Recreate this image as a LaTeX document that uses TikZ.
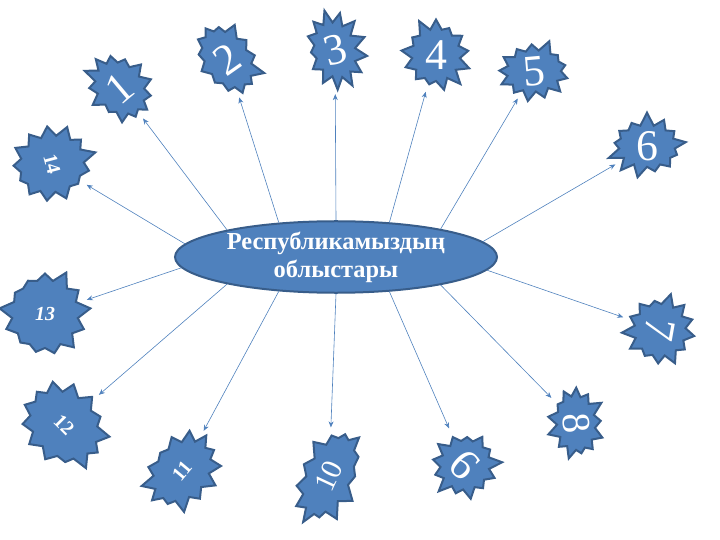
\documentclass[tikz,border=0pt]{standalone}
\usepackage{fontspec}
\setmainfont{Liberation Serif}
\usetikzlibrary{shapes.symbols,shapes.geometric,arrows.meta}
\definecolor{burstblue}{HTML}{4F81BD}
\definecolor{burstedge}{HTML}{385D8A}
\newcommand{\bigdigit}[1]{\fontsize{44}{44}\selectfont #1}
\newcommand{\smalldigit}[1]{\fontsize{20}{20}\selectfont\bfseries #1}

\begin{document}
\begin{tikzpicture}[x=1bp,y=1bp,
    burst/.style={starburst, starburst points=13, starburst point height=13bp,
      fill=burstblue, draw=burstedge, line width=2bp, text=white,
      inner sep=0pt, minimum width=66bp, minimum height=78bp},
    hub/.style={ellipse, fill=burstblue, draw=burstedge, line width=2bp,
      text=white, minimum width=322bp, minimum height=70bp, inner sep=0pt,
      align=center, font=\fontsize{24.5}{28}\selectfont\bfseries},
    arr/.style={-{Stealth[length=6bp,width=5bp]}, draw=burstblue,
      line width=0.6bp, shorten >=8bp}]
  \useasboundingbox (0,0) rectangle (720,-540);
  \node[hub] (c) at (336,-257) {Республикамыздың\\облыстары};
  % the fourteen regions
  \node[burst, rotate=40, random starburst=11, minimum width=70bp, minimum height=82bp] (s1) at (120,-88) {\bigdigit{1}};
  \node[burst, rotate=35, random starburst=22, minimum width=68bp, minimum height=88bp] (s2) at (227,-59) {\bigdigit{2}};
  \node[burst, rotate=15, random starburst=33, minimum width=66bp, minimum height=82bp] (s3) at (335,-50) {\bigdigit{3}};
  \node[burst, random starburst=44, minimum width=74bp, minimum height=78bp] (s4) at (436,-55) {\bigdigit{4}};
  \node[burst, rotate=5, random starburst=55, minimum width=80bp, minimum height=64bp] (s5) at (534,-71) {\bigdigit{5}};
  \node[burst, random starburst=66, minimum width=82bp, minimum height=64bp] (s6) at (647,-146) {\bigdigit{6}};
  \node[burst, rotate=-100, random starburst=77, minimum width=78bp, minimum height=77bp] (s7) at (660,-330) {\bigdigit{7}};
  \node[burst, rotate=-85, random starburst=88, minimum width=80bp, minimum height=60bp] (s8) at (576,-423) {\fontsize{40}{40}\selectfont 8};
  \node[burst, rotate=135, random starburst=99, minimum width=74bp, minimum height=76bp] (s9) at (465,-465) {\bigdigit{9}};
  \node[burst, rotate=65, random starburst=12, minimum width=108bp, minimum height=68bp] (s10) at (329,-476) {\fontsize{30}{30}\selectfont 10};
  \node[burst, rotate=50, random starburst=23, minimum width=92bp, minimum height=76bp] (s11) at (182,-471) {\smalldigit{11}};
  \node[burst, rotate=-45, random starburst=34, minimum width=100bp, minimum height=86bp] (s12) at (64,-425) {\smalldigit{12}};
  \node[burst, random starburst=45, minimum width=92bp, minimum height=94bp] (s13) at (45,-314) {\smalldigit{\itshape 13}};
  \node[burst, rotate=-75, random starburst=56, minimum width=82bp, minimum height=90bp] (s14) at (52,-164) {\smalldigit{14}};
  % arrows from the centre
  \draw[arr] (c.166) -- (s1);
  \draw[arr] (c.149) -- (s2);
  \draw[arr] (c.90) -- (s3);
  \draw[arr] (c.33) -- (s4);
  \draw[arr] (c.15) -- (s5);
  \draw[arr] (c.6) -- (s6);
  \draw[arr] (c.355) -- (s7);
  \draw[arr] (c.345) -- (s8);
  \draw[arr] (c.327) -- (s9);
  \draw[arr] (c.270) -- (s10);
  \draw[arr] (c.211) -- (s11);
  \draw[arr] (c.194) -- (s12);
  \draw[arr] (c.184) -- (s13);
  \draw[arr] (c.175) -- (s14);
\end{tikzpicture}
\end{document}
